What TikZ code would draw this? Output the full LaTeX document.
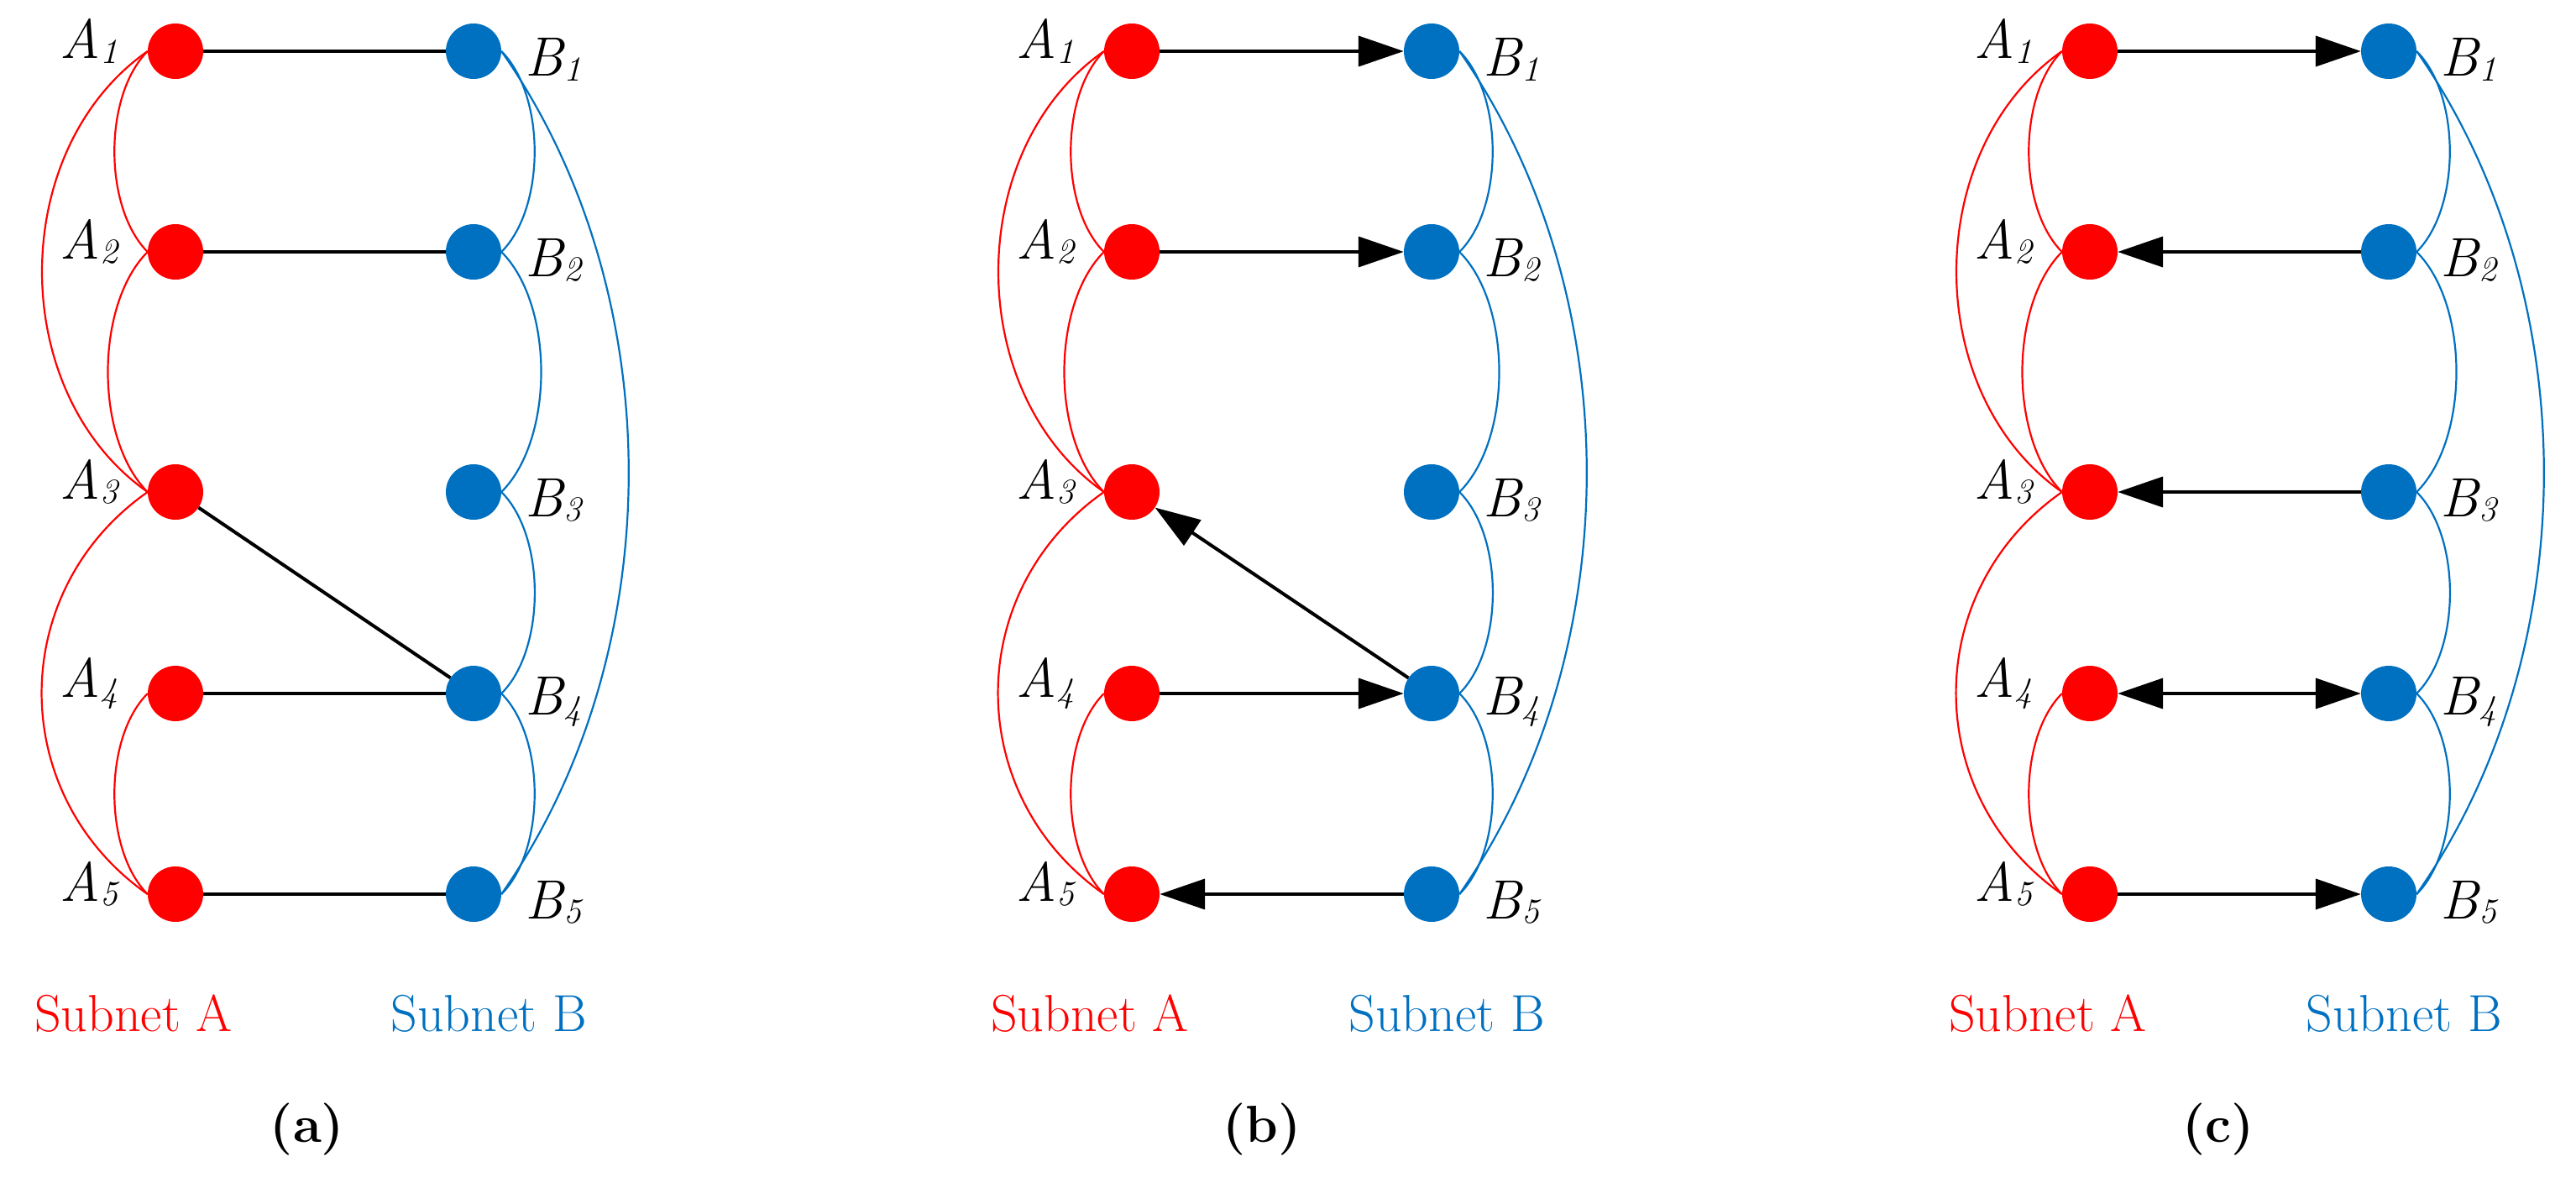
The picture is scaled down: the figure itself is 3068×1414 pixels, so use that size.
\documentclass[tikz,border=0pt]{standalone}
\usetikzlibrary{arrows.meta}
\definecolor{cred}{HTML}{FF0000}
\definecolor{cblue}{HTML}{0070C0}
\tikzset{
  x=1pt,y=1pt,
  an/.style={circle,fill=cred,minimum size=66pt,inner sep=0pt},
  bn/.style={circle,fill=cblue,minimum size=66pt,inner sep=0pt},
  lab/.style={font=\fontsize{62}{70}\selectfont},
  ilab/.style={font=\fontsize{66}{70}\selectfont\itshape},
  ra/.style={cred,line width=2.2pt},
  ba/.style={cblue,line width=2.2pt},
  con/.style={black,line width=4pt},
  tip/.style={-{Triangle[length=54pt,width=36pt]}},
  tipb/.style={{Triangle[length=54pt,width=36pt]}-{Triangle[length=54pt,width=36pt]}},
}
\newcommand\sbx[1]{\raisebox{-0.2ex}{\fontsize{42}{50}\selectfont #1}}
\newcommand\mypanel[4]{% prefix, xA, xB, caption
  \foreach \i/\y in {1/-61,2/-300,3/-586,4/-826,5/-1065}{
    \node[an] (#1A\i) at (#2,\y) {};
    \node[bn] (#1B\i) at (#3,\y) {};
    \node[ilab,anchor=center] (#1LA\i) at ([xshift=-103pt,yshift=12pt]#1A\i) {A\sbx{\i}};
    \node[ilab,anchor=center] (#1LB\i) at ([xshift=95pt,yshift=-10pt]#1B\i) {B\sbx{\i}};
  }
  \draw[ra] (#1A1.west) to[out=225,in=135,looseness=0.8] (#1A2.west);
  \draw[ra] (#1A2.west) to[out=225,in=135,looseness=0.8] (#1A3.west);
  \draw[ra] (#1A4.west) to[out=225,in=135,looseness=0.8] (#1A5.west);
  \draw[ra] (#1A1.west) to[out=215,in=145,looseness=1.0] (#1A3.west);
  \draw[ra] (#1A3.west) to[out=215,in=145,looseness=1.1] (#1A5.west);
  \draw[ba] (#1B1.east) to[out=-45,in=45,looseness=0.8] (#1B2.east);
  \draw[ba] (#1B2.east) to[out=-45,in=45,looseness=0.8] (#1B3.east);
  \draw[ba] (#1B3.east) to[out=-45,in=45,looseness=0.8] (#1B4.east);
  \draw[ba] (#1B4.east) to[out=-45,in=45,looseness=0.8] (#1B5.east);
  \draw[ba] (#1B1.east) to[out=-55,in=55,looseness=0.9] (#1B5.east);
  \node[lab,text=cred] (#1SA) at (#2-50,-1207) {Subnet A};
  \node[lab,text=cblue] (#1SB) at (#3+18,-1207) {Subnet B};
  \node[lab,font=\fontsize{62}{70}\selectfont\bfseries] (#1cap) at (#4,-1346) {(\strut#1)};
}
\begin{document}
\begin{tikzpicture}
\useasboundingbox (0,0) rectangle (3068,-1414);
\mypanel{a}{209}{564}{366}
\mypanel{b}{1348}{1705}{1503}
\mypanel{c}{2489}{2845}{2642}
% (a)
\draw[con] (aA1) -- (aB1);
\draw[con] (aA2) -- (aB2);
\draw[con] (aA3) -- (aB4);
\draw[con] (aA4) -- (aB4);
\draw[con] (aA5) -- (aB5);
% (b)
\draw[con,tip] (bA1) -- (bB1);
\draw[con,tip] (bA2) -- (bB2);
\draw[con,tip] (bB4) -- (bA3);
\draw[con,tip] (bA4) -- (bB4);
\draw[con,tip] (bB5) -- (bA5);
% (c)
\draw[con,tip] (cA1) -- (cB1);
\draw[con,tip] (cB2) -- (cA2);
\draw[con,tip] (cB3) -- (cA3);
\draw[con,tipb] (cA4) -- (cB4);
\draw[con,tip] (cA5) -- (cB5);
\end{tikzpicture}
\end{document}
